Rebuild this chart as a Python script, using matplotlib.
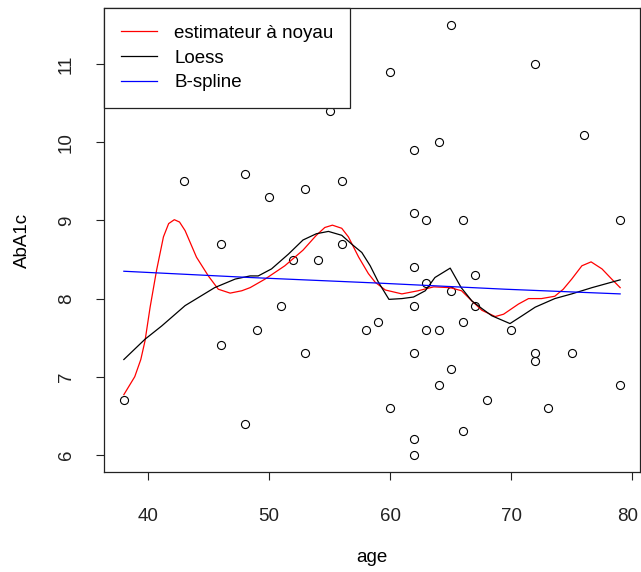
import matplotlib
matplotlib.use("Agg")
import matplotlib.pyplot as plt
import matplotlib.transforms as mtransforms

plt.rcParams['font.family'] = ['Liberation Sans', 'DejaVu Sans']

# Scatter data
age = [55, 43, 48, 50, 53, 56, 46, 56,
       65, 60, 72, 62, 64, 76, 62, 63, 66, 79,
       38, 52, 54, 51, 49, 46, 53, 58, 48,
       62, 67, 63, 65, 62, 67, 59, 63, 64, 66, 70, 62, 72, 72, 75, 65, 64, 79,
       68, 60, 73, 66, 62, 62]
aba1c = [10.4, 9.5, 9.6, 9.3, 9.4, 9.5, 8.7, 8.7,
         11.5, 10.9, 11.0, 9.9, 10.0, 10.1, 9.1, 9.0, 9.0, 9.0,
         6.7, 8.5, 8.5, 7.9, 7.6, 7.4, 7.3, 7.6, 6.4,
         8.4, 8.3, 8.2, 8.1, 7.9, 7.9, 7.7, 7.6, 7.6, 7.7, 7.6, 7.3, 7.3, 7.2, 7.3, 7.1, 6.9, 6.9,
         6.7, 6.6, 6.6, 6.3, 6.2, 6.0]

# Kernel estimator curve
kern_x = [38.0, 38.9, 39.4, 39.75, 40.17, 40.7, 41.27, 41.7, 42.17, 42.6, 43.06, 44.0, 44.98,
          45.8, 46.78, 47.74, 48.43, 49.67, 51.3, 52.8, 53.9, 54.6, 55.23, 56.0, 56.55,
          57.4, 58.2, 58.76, 59.6, 60.97, 62.3, 63.6, 64.96, 65.9, 66.75, 67.58, 68.68,
          69.37, 70.6, 71.43, 72.5, 73.6, 74.3, 75.0, 75.84, 76.6, 77.5, 78.3, 79.0]
kern_y = [6.77, 7.0, 7.22, 7.46, 7.89, 8.36, 8.79, 8.96, 9.01, 8.98, 8.87, 8.53, 8.29,
          8.12, 8.07, 8.10, 8.14, 8.25, 8.42, 8.62, 8.81, 8.91, 8.94, 8.90, 8.79,
          8.53, 8.32, 8.21, 8.11, 8.06, 8.10, 8.15, 8.14, 8.10, 7.97, 7.85, 7.77,
          7.80, 7.93, 8.0, 8.0, 8.03, 8.12, 8.25, 8.42, 8.47, 8.38, 8.25, 8.14]

# Loess curve
loess_x = [38.0, 39.75, 41.13, 43.06, 45.5, 47.2, 48.43, 49.1, 50.2, 51.6, 52.8, 53.9, 54.9,
           56.0, 56.8, 57.66, 58.35, 59.03, 59.9, 60.97, 61.93, 62.9, 63.7, 64.96, 65.87,
           66.75, 67.6, 68.4, 69.9, 70.9, 71.98, 73.6, 75.0, 76.67, 79.0]
loess_y = [7.22, 7.48, 7.65, 7.91, 8.14, 8.25, 8.29, 8.29, 8.38, 8.57, 8.75, 8.83, 8.86,
           8.81, 8.70, 8.59, 8.42, 8.21, 7.99, 8.00, 8.02, 8.10, 8.27, 8.39, 8.14,
           7.97, 7.87, 7.78, 7.68, 7.78, 7.89, 8.0, 8.06, 8.14, 8.24]

# B-spline curve
bspl_x = [38.0, 48.4, 58.8, 69.5, 79.0]
bspl_y = [8.35, 8.27, 8.20, 8.12, 8.06]

FS = 13.5

fig = plt.figure(figsize=(6.41, 5.72), dpi=100)
ax = fig.add_axes([104 / 641, 100 / 572, 536 / 641, 464 / 572])

ax.plot(age, aba1c, linestyle='none', marker='o', markersize=5.8,
        markerfacecolor='none', markeredgecolor='black', markeredgewidth=0.8)
ax.plot(kern_x, kern_y, color='red', lw=0.9, label='estimateur à noyau')
ax.plot(loess_x, loess_y, color='black', lw=0.9, label='Loess')
ax.plot(bspl_x, bspl_y, color='blue', lw=0.9, label='B-spline')

# R-style axis range (4% padding)
ax.set_xlim(36.36, 80.64)
ax.set_ylim(5.78, 11.72)
ax.set_xticks([40, 50, 60, 70, 80])
ax.set_yticks([6, 7, 8, 9, 10, 11])
ax.tick_params(direction='out', length=6, width=0.8, labelsize=FS, colors='#222222')
ax.tick_params(axis='x', pad=20)
ax.tick_params(axis='y', pad=15)
for lab in ax.get_yticklabels():
    lab.set_rotation(90)
    lab.set_va('center')
for s in ax.spines.values():
    s.set_linewidth(0.9)
    s.set_color('#222222')

# nudge the "80" label so it stays inside the image edge
last = ax.get_xticklabels()[-1]
last.set_transform(last.get_transform() +
                   mtransforms.ScaledTranslation(-3 / 72, 0, fig.dpi_scale_trans))

ax.set_xlabel('age', fontsize=FS, labelpad=17)
ax.set_ylabel('AbA1c', fontsize=FS, labelpad=19)

leg = ax.legend(loc='upper left', borderaxespad=0, fontsize=FS, fancybox=False,
                edgecolor='#222222', framealpha=1, handlelength=1.9,
                handletextpad=0.95, labelspacing=0.4, borderpad=0.9)
leg.get_frame().set_linewidth(0.9)

fig.savefig('out.png', dpi=100)
